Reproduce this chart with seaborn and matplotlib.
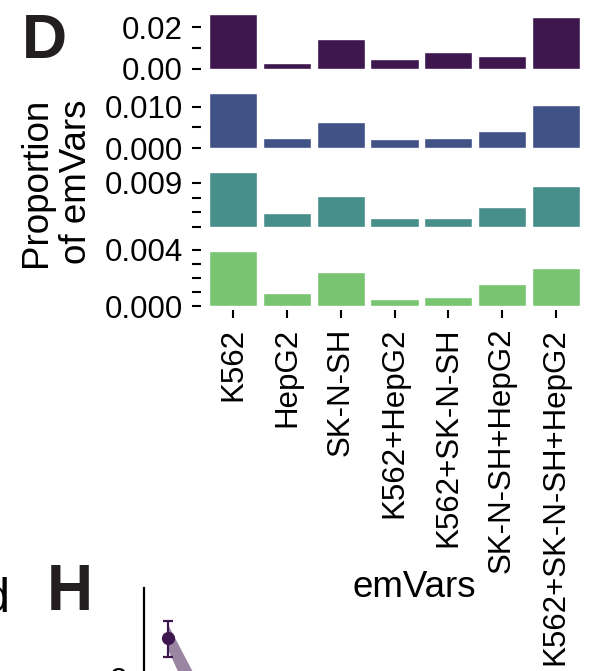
import matplotlib
matplotlib.use("Agg")
import matplotlib.pyplot as plt
import seaborn as sns
import numpy as np
import pandas as pd

# ---------------- data ----------------
categories = ["K562", "HepG2", "SK-N-SH", "K562+HepG2", "K562+SK-N-SH",
              "SK-N-SH+HepG2", "K562+SK-N-SH+HepG2"]
row1 = [0.0263, 0.0029, 0.0143, 0.0048, 0.0081, 0.0062, 0.0248]
row2 = [0.0134, 0.0024, 0.0063, 0.0022, 0.0024, 0.0042, 0.0105]
row3 = [0.0111, 0.0029, 0.0063, 0.0019, 0.0019, 0.0041, 0.0083]
row4 = [0.0039, 0.00095, 0.00245, 0.00052, 0.00066, 0.0016, 0.00274]
rows = [row1, row2, row3, row4]

row_ticks = [[0.0, 0.01, 0.02],
             [0.0, 0.005, 0.010],
             [0.0, 0.003, 0.006, 0.009],
             [0.0, 0.001, 0.002, 0.003, 0.004]]
row_ticklabels = [["0.00", "", "0.02"],
                  ["0.000", "", "0.010"],
                  ["", "", "", "0.009"],
                  ["0.000", "", "", "", "0.004"]]
row_colors = ["#3e174e", "#415287", "#488f8b", "#79c471"]

# partial panel H data
h_x = [1, 2]
h_mean = [0.50, -0.40]
h_err_lo = [0.31]
h_err_hi = [0.67]
h_band_lo = [0.38, -0.62]
h_band_hi = [0.63, -0.23]

# ---------------- style ----------------
sns.set_theme(style="white")
plt.rcParams["font.family"] = ["Liberation Sans", "DejaVu Sans"]

W, H = 592, 671
fig = plt.figure(figsize=(W / 100, H / 100), dpi=100)


def px_axes(left, top, right, bottom):
    return fig.add_axes([left / W, 1 - bottom / H, (right - left) / W, (bottom - top) / H])


panel_bottoms = [69, 148, 227.3, 306.3]
panel_h = 57.7
ax_left, ax_right = 201, 588

for i, (vals, ticks, tlabels, col, pb) in enumerate(
        zip(rows, row_ticks, row_ticklabels, row_colors, panel_bottoms)):
    ax = px_axes(ax_left, pb - panel_h, ax_right, pb)
    df = pd.DataFrame({"cat": categories, "val": vals})
    sns.barplot(data=df, x="cat", y="val", order=categories, color=col,
                saturation=1, width=0.9, ax=ax)
    ax.set_xlim(-0.6, 6.6)
    ax.set_ylim(0, max(vals) * 1.05)
    ax.set_yticks(ticks)
    ax.set_yticklabels(tlabels)
    ax.set_xlabel("")
    ax.set_ylabel("")
    for s in ax.spines.values():
        s.set_visible(False)
    ax.tick_params(axis="y", left=True, length=6.5, width=1.5, pad=6.5,
                   labelsize=22.5, colors="black", direction="out")
    if i < 3:
        ax.set_xticks([])
    else:
        ax.spines["bottom"].set_position(("outward", 2.5))
        ax.tick_params(axis="x", bottom=True, length=6, width=1.5, pad=7,
                       labelsize=22.5, labelrotation=90, colors="black",
                       direction="out")
    ax.set_facecolor("none")

# axis titles
fig.text(56.5 / W, 1 - 182 / H, "Proportion\nof emVars", rotation=90,
         ha="center", va="center", multialignment="center",
         fontsize=26.5, linespacing=1.2, color="black")
fig.text(414.5 / W, 1 - 597 / H, "emVars", ha="center", va="baseline",
         fontsize=26.5, color="black")

# panel letters
fig.text(22 / W, 1 - 58 / H, "D", fontsize=45, fontweight="bold",
         ha="left", va="baseline", color="#231f20")
fig.text(47 / W, 1 - 610 / H, "H", fontsize=46, fontweight="bold",
         ha="left", va="baseline", color="#231f20")
fig.text(10 / W, 1 - 612 / H, "d", fontsize=35, ha="right", va="baseline",
         color="black")

# partial panel H
axh = px_axes(143.5, 588, 600, 760)
axh.fill_between(h_x, h_band_lo, h_band_hi, color="#3e174e", alpha=0.52,
                 linewidth=0)
axh.errorbar(h_x[:1], h_mean[:1],
             yerr=[[h_mean[0] - h_err_lo[0]], [h_err_hi[0] - h_mean[0]]],
             fmt="o", color="#3e174e", markersize=8.5, capsize=3.5,
             elinewidth=1.6, capthick=1.6)
axh.set_xlim(0.455, 0.455 + (600 - 143.5) / 45)
axh.set_ylim(1 - (760 - 588) / 100, 1.0)
for k, s in axh.spines.items():
    s.set_visible(k == "left")
axh.spines["left"].set_linewidth(1.6)
axh.spines["left"].set_color("black")
axh.set_xticks([])
axh.set_yticks([0.1])
axh.set_yticklabels(["2"])
axh.tick_params(axis="y", left=True, length=6.5, width=1.5, pad=5.5,
                labelsize=22.5, colors="black")
axh.set_facecolor("none")

fig.savefig("out.png", dpi=100)
